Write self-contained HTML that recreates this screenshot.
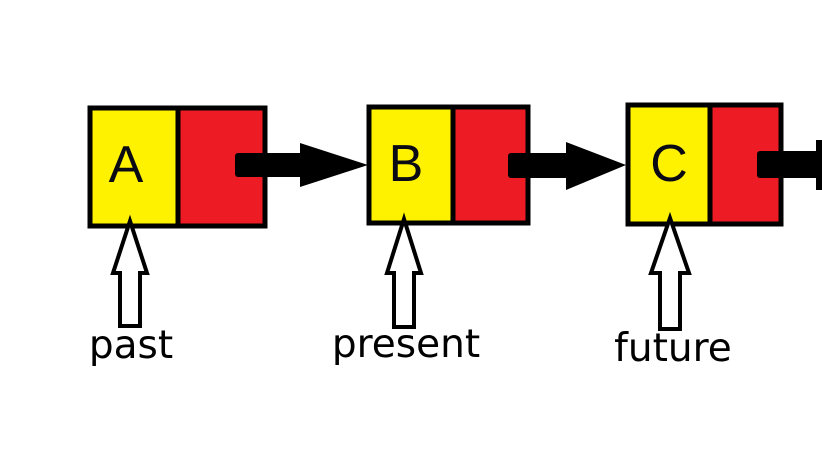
<!DOCTYPE html>
<html><head><meta charset="utf-8"><style>
html,body{margin:0;padding:0;background:#fff;}
svg{display:block;}
text{font-family:"DejaVu Sans","Liberation Sans",sans-serif;fill:#000;}
.ltr{font-family:"Liberation Sans",sans-serif;fill:#0a0a14;}
</style></head><body>
<svg width="822" height="460" viewBox="0 0 822 460">
<g>
<rect x="90" y="108" width="88" height="118" fill="#fff200" stroke="#000" stroke-width="5"/>
<rect x="178" y="108" width="87" height="118" fill="#ed1c24" stroke="#000" stroke-width="5"/>
<text class="ltr" x="126" y="182" font-size="52" text-anchor="middle">A</text>
</g>
<g>
<rect x="369" y="107" width="84" height="116" fill="#fff200" stroke="#000" stroke-width="5"/>
<rect x="453" y="107" width="75" height="116" fill="#ed1c24" stroke="#000" stroke-width="5"/>
<text class="ltr" x="406" y="181" font-size="52" text-anchor="middle">B</text>
</g>
<g>
<rect x="628" y="105" width="82" height="119" fill="#fff200" stroke="#000" stroke-width="5"/>
<rect x="710" y="105" width="71" height="119" fill="#ed1c24" stroke="#000" stroke-width="5"/>
<text class="ltr" x="669" y="181" font-size="52" text-anchor="middle">C</text>
</g>
<g>
<rect x="235" y="153" width="68" height="24" rx="3" fill="#000"/>
<polygon points="300,143 368,165 300,187" fill="#000"/>
</g>
<g>
<rect x="508" y="153" width="62" height="25" rx="3" fill="#000"/>
<polygon points="566,142 626,165 566,190" fill="#000"/>
</g>
<g>
<rect x="757" y="151" width="65" height="27" rx="3" fill="#000"/>
<rect x="816" y="140" width="6" height="50" fill="#000"/>
</g>
<polygon points="130,221 147,273 140,273 140,326 120,326 120,273 113,273" fill="#fff" stroke="#000" stroke-width="4"/>
<polygon points="404,219 421,273 414,273 414,327 394,327 394,273 387,273" fill="#fff" stroke="#000" stroke-width="4"/>
<polygon points="670,218 689,273 680,273 680,329 660,329 660,273 651,273" fill="#fff" stroke="#000" stroke-width="4"/>
<text x="131" y="358" font-size="39" text-anchor="middle">past</text>
<text x="406" y="357" font-size="39" text-anchor="middle">present</text>
<text x="673" y="361" font-size="39" text-anchor="middle">future</text>
</svg>
</body></html>
